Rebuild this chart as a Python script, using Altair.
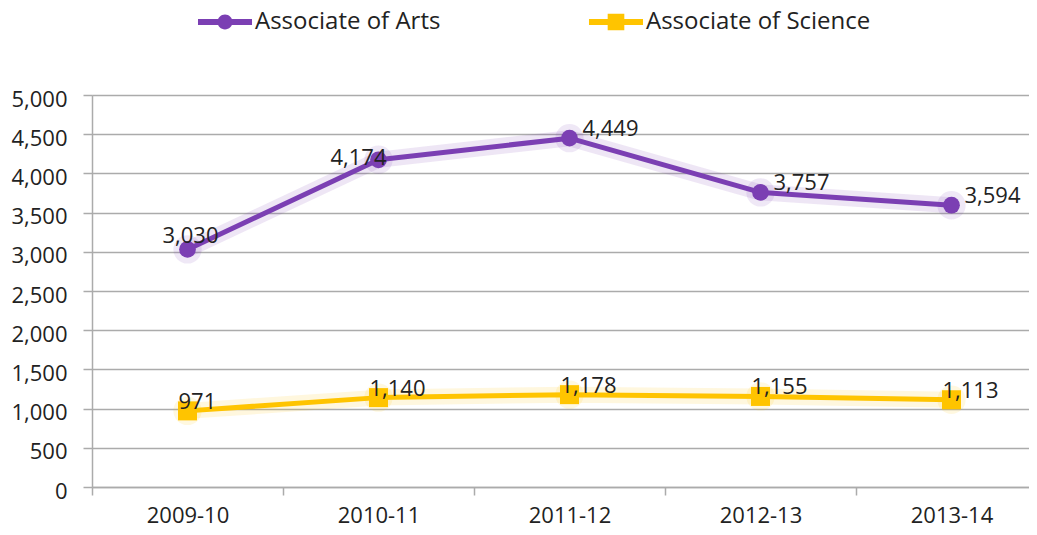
import altair as alt
import pandas as pd

years = ["2009-10", "2010-11", "2011-12", "2012-13", "2013-14"]
arts = [3030, 4174, 4449, 3757, 3594]
science = [971, 1140, 1178, 1155, 1113]
series_names = ["Associate of Arts", "Associate of Science"]
colors = ["#7B3FB3", "#FFC400"]
y_ticks = [0, 500, 1000, 1500, 2000, 2500, 3000, 3500, 4000, 4500, 5000]

rows = []
for i, (yr, v) in enumerate(zip(years, arts)):
    rows.append({"idx": i, "year": yr, "series": series_names[0], "value": v})
for i, (yr, v) in enumerate(zip(years, science)):
    rows.append({"idx": i, "year": yr, "series": series_names[1], "value": v})
df = pd.DataFrame(rows)

FONT = "Open Sans"
TXT = "#222222"
GRID = "#ABABAB"

arts_path = ("M-2.5,-0.28H2.5V0.28H-2.5Z "
             "M0.69,0A0.69,0.69 0 1 1 -0.69,0A0.69,0.69 0 1 1 0.69,0Z")
sci_path = ("M-2.5,-0.28H-0.77V-0.77H0.77V-0.28H2.5V0.28H0.77V0.77"
            "H-0.77V0.28H-2.5Z")

legend = alt.Legend(
    title=None, orient="none", legendX=121, legendY=-85,
    direction="horizontal", columns=2, columnPadding=147,
    symbolSize=467, labelOffset=18, labelFontSize=24, labelFont=FONT,
    labelColor=TXT, labelLimit=500, padding=0, symbolStrokeWidth=0, symbolOpacity=1,
    symbolType={"expr": f"datum.value == '{series_names[0]}' ? '{arts_path}' : '{sci_path}'"},
    symbolFillColor={"expr": "scale('color', datum.value)"},
)

WIDTH = 937
STEP = 191
year_lookup = "[" + ",".join(f"'{y}'" for y in years) + "]"
tick_vals = [i - 0.5 for i in range(len(years))]
x_enc = alt.X(
    "idx:Q",
    scale=alt.Scale(domain=[-0.5, -0.5 + WIDTH / STEP], nice=False, zero=False),
    axis=alt.Axis(title=None, values=tick_vals, labelOffset=STEP / 2,
                  labelExpr=f"{year_lookup}[round(datum.value + 0.5)]", tickSize=8,
                  labelPadding=10, labelFontSize=22, labelFont=FONT, labelColor=TXT,
                  domainColor=GRID, tickColor=GRID, domainWidth=1.5, tickWidth=1.5,
                  grid=False, labelAngle=0, labelOverlap=False, labelBound=False,
                  labelFlush=False),
)
y_enc = alt.Y(
    "value:Q", scale=alt.Scale(domain=[0, 5000], nice=False),
    axis=alt.Axis(title=None, values=y_ticks, format=",d", tickSize=9, labelPadding=16,
                  labelFontSize=22, labelFont=FONT, labelColor=TXT, labelOffset=4,
                  domainColor=GRID, tickColor=GRID, gridColor=GRID, domainWidth=1.5,
                  tickWidth=1.5, gridWidth=1.5, grid=True, labelOverlap=False),
)
color_enc = alt.Color("series:N", scale=alt.Scale(domain=series_names, range=colors),
                      legend=legend)

base = alt.Chart(df).encode(x=x_enc, y=y_enc, color=color_enc)
is_arts = f"datum.series == '{series_names[0]}'"
is_sci = f"datum.series == '{series_names[1]}'"

glow_line = base.mark_line(strokeWidth=16, opacity=0.13, strokeCap="round", strokeJoin="round")
glow_pt = base.mark_point(filled=True, opacity=0.12, size=800, shape="circle")
line = base.mark_line(strokeWidth=5, strokeCap="round", strokeJoin="round", opacity=1)
pts_arts = base.mark_point(filled=True, opacity=1, strokeWidth=0, shape="circle",
                           size=280).transform_filter(is_arts)
pts_sci = base.mark_point(filled=True, opacity=1, strokeWidth=0, shape="square",
                          size=361).transform_filter(is_sci)

tbase = alt.Chart(df).encode(x=x_enc, y=y_enc, text=alt.Text("value:Q", format=","))
tstyle = dict(font=FONT, fontSize=22, color=TXT, baseline="alphabetic")
t_arts_main = tbase.mark_text(align="left", dx=13, dy=-2, **tstyle).transform_filter(
    f"{is_arts} && datum.year != '{years[0]}' && datum.year != '{years[1]}'")
t_arts_first = tbase.mark_text(align="center", dx=3, dy=-6, **tstyle).transform_filter(
    f"{is_arts} && datum.year == '{years[0]}'")
t_arts_second = tbase.mark_text(align="right", dx=8, dy=5, **tstyle).transform_filter(
    f"{is_arts} && datum.year == '{years[1]}'")
t_sci = tbase.mark_text(align="left", dx=-9, dy=-2, **tstyle).transform_filter(is_sci)

chart = alt.layer(
    glow_line, glow_pt, line, pts_arts, pts_sci,
    t_arts_main, t_arts_first, t_arts_second, t_sci
).properties(
    width=WIDTH, height=392,
    autosize=alt.AutoSizeParams(type="none"),
    padding={"left": 84, "top": 87, "right": 0, "bottom": 40},
).configure_view(stroke=None).configure(background="white")

chart.save("out.html", embed_options={"renderer": "svg", "actions": False})
